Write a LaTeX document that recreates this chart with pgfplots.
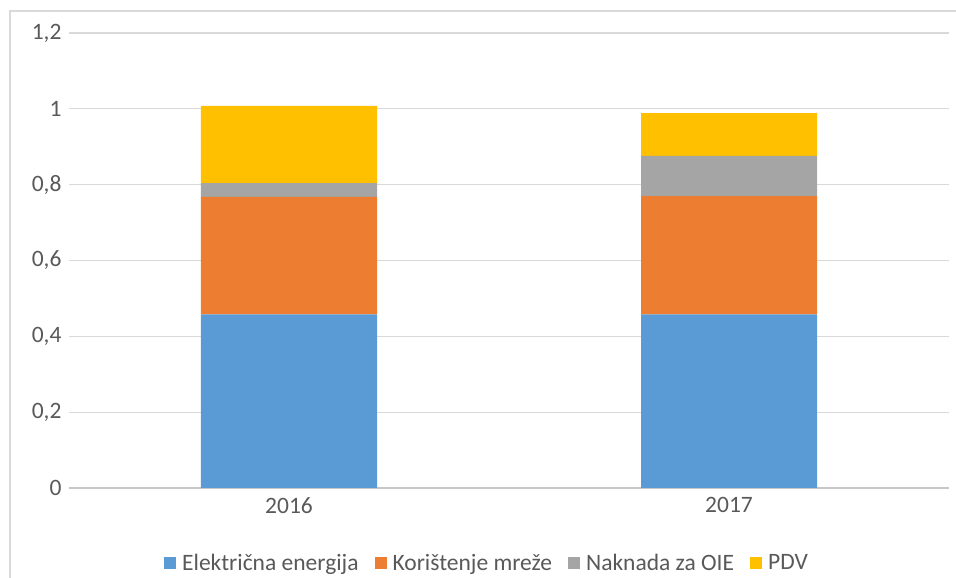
\documentclass[border=0pt]{standalone}
\usepackage{pgfplots}
\pgfplotsset{compat=1.18}
\usepackage{fontspec}
\setmainfont{Carlito}
\definecolor{cblue}{HTML}{5B9BD5}
\definecolor{corange}{HTML}{ED7D31}
\definecolor{cgray}{HTML}{A5A5A5}
\definecolor{cyellow}{HTML}{FFC000}
\definecolor{ctext}{HTML}{595959}
\definecolor{cgrid}{HTML}{D9D9D9}

\begin{document}
\begin{tikzpicture}
\useasboundingbox (-69pt,-90pt) rectangle (887pt,488pt);
\draw[cgrid, line width=1.2pt] (-59pt,-95pt) -- (-59pt,477pt) -- (895pt,477pt);
\begin{axis}[
  at={(0,0)}, anchor=south west,
  scale only axis, width=880pt, height=455pt,
  ybar stacked, bar width=0.4,
  xmin=-0.5, xmax=1.5,
  ymin=0, ymax=1.2,
  xtick=data, xticklabels={2016,2017},
  ytick={0,0.2,0.4,0.6,0.8,1,1.2},
  yticklabels={0,{0,2},{0,4},{0,6},{0,8},1,{1,2}},
  ymajorgrids, grid style={cgrid, line width=1.2pt},
  axis x line*=bottom, axis y line*=left,
  y axis line style={draw=none},
  x axis line style={draw=cgrid!80!gray, line width=1.2pt, -},
  major tick length=0pt,
  tick label style={font=\fontsize{23.5}{28}\selectfont, text=ctext},
  yticklabel style={xshift=-4pt},
  xticklabel style={yshift=-6pt},
  legend style={draw=none, at={(0.475,-0.165)}, anchor=center,
    legend columns=-1, font=\fontsize{23.5}{28}\selectfont, text=ctext,
    /tikz/every odd column/.append style={column sep=4pt},
    /tikz/every even column/.append style={column sep=14pt}},
  legend image code/.code={\fill[#1] (0pt,-6pt) rectangle (12pt,6pt);},
]
\addplot[fill=cblue, draw=none] coordinates {(0,0.458) (1,0.458)};
\addplot[fill=corange, draw=none] coordinates {(0,0.310) (1,0.312)};
\addplot[fill=cgray, draw=none] coordinates {(0,0.036) (1,0.106)};
\addplot[fill=cyellow, draw=none] coordinates {(0,0.204) (1,0.113)};
\legend{Električna energija, Korištenje mreže, Naknada za OIE, PDV}
\end{axis}
\end{tikzpicture}
\end{document}
